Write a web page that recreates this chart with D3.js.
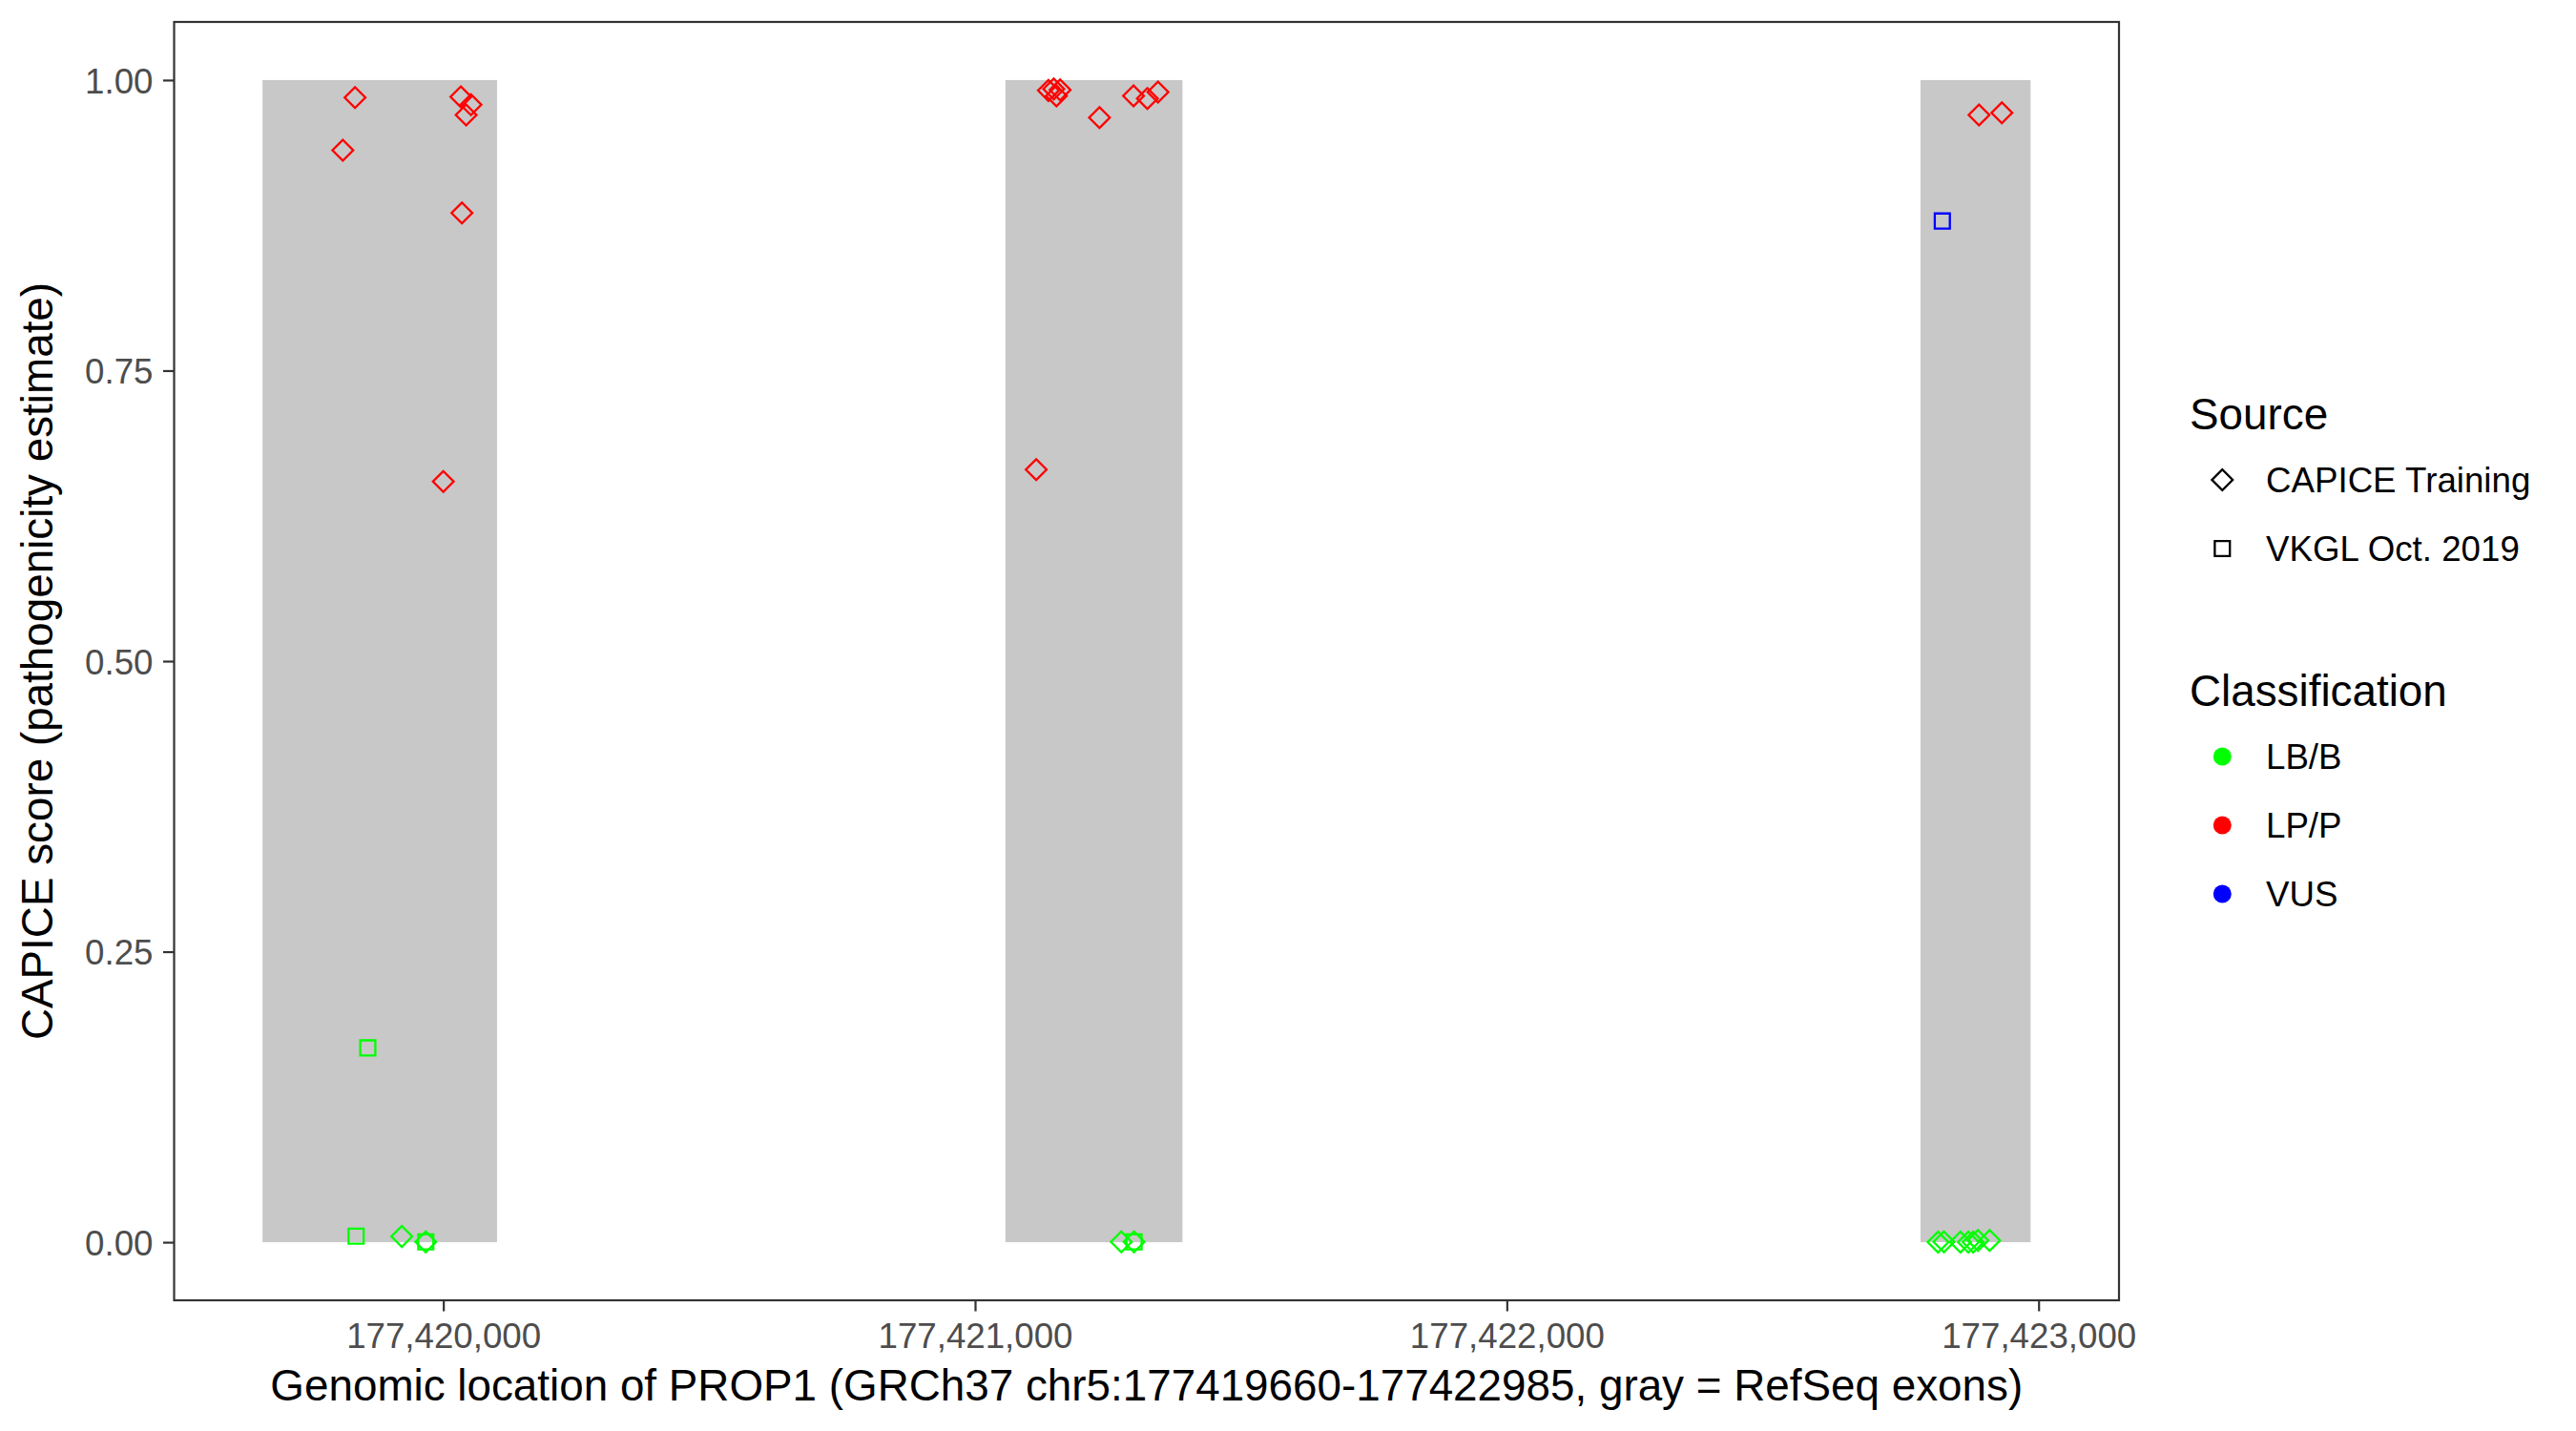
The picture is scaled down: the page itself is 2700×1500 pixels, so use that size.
<!DOCTYPE html>
<html><head><meta charset="utf-8">
<script src="https://cdn.jsdelivr.net/npm/d3@7"></script>
<style>body{margin:0;background:#fff}svg{display:block}</style>
</head><body>
<script>
// ---- data ----
const exonStart = [177419660, 177421057, 177422778];
const exonEnd   = [177420101, 177421390, 177422985];

const position = [
  177419834,177419811,177420033,177420052,177420043,177420035,177420000,
  177419858,177419836,177419922,177419967,177419967,
  177421138,177421148,177421160,177421153,177421234,177421298,177421324,177421344,177421115,
  177421275,177421299,177421299,
  177422888,177422931,177422819,
  177422811,177422822,177422853,177422868,177422877,177422886,177422908
];
const score = [
  0.985,0.9395,0.9855,0.9787,0.970,0.8856,0.6546,
  0.1672,0.0052,0.0049,0.0003,0.0003,
  0.991,0.9924,0.9915,0.9863,0.9677,0.9863,0.9842,0.9896,0.6648,
  0.0003,0.0003,0.0003,
  0.9699,0.9718,0.8787,
  0.0,0.0003,0.0,0.0,0.0,0.0016,0.0016
];
const source = [
  "C","C","C","C","C","C","C",
  "V","V","C","C","V",
  "C","C","C","C","C","C","C","C","C",
  "C","C","V",
  "C","C","V",
  "C","C","C","C","C","C","C"
];
const classification = [
  "LP/P","LP/P","LP/P","LP/P","LP/P","LP/P","LP/P",
  "LB/B","LB/B","LB/B","LB/B","LB/B",
  "LP/P","LP/P","LP/P","LP/P","LP/P","LP/P","LP/P","LP/P","LP/P",
  "LB/B","LB/B","LB/B",
  "LP/P","LP/P","VUS",
  "LB/B","LB/B","LB/B","LB/B","LB/B","LB/B","LB/B"
];
const xTicks = [177420000, 177421000, 177422000, 177423000];
const yTicks = [0, 0.25, 0.5, 0.75, 1.0];
const sourceLabels = ["CAPICE Training", "VKGL Oct. 2019"];
const sourceKeys = ["C", "V"];
const classLabels = ["LB/B", "LP/P", "VUS"];
const classColors = ["#00FF00", "#FF0000", "#0000FF"];
const geneStart = 177419660, geneEnd = 177422985;

// ---- layout ----
const W = 2700, H = 1500;
const panel = {left: 182.5, right: 2221, top: 23, bottom: 1363};
const tickFont = 36.7, titleFont = 45.8;
const fontFam = "'Liberation Sans', Arial, sans-serif";

const svg = d3.select("body").append("svg").attr("width", W).attr("height", H)
  .style("font-family", fontFam);
svg.append("rect").attr("width", W).attr("height", H).attr("fill", "#fff");

const span = geneEnd - geneStart;
const x = d3.scaleLinear().domain([geneStart - 0.05*span, geneEnd + 0.05*span])
  .range([panel.left, panel.right]);
const y = d3.scaleLinear().domain([-0.05, 1.05]).range([panel.bottom, panel.top]);

const color = d3.scaleOrdinal().domain(classLabels).range(classColors);

// exons
const exons = exonStart.map((s, i) => ({s, e: exonEnd[i]}));
svg.append("g").selectAll("rect").data(exons).join("rect")
  .attr("x", d => x(d.s)).attr("width", d => x(d.e) - x(d.s))
  .attr("y", y(1)).attr("height", y(0) - y(1))
  .attr("fill", "#C8C8C8");

// points
const pts = position.map((p, i) => ({p, s: score[i], src: source[i], cls: classification[i]}));
const diamond = d3.symbol().type(d3.symbolSquare).size(237)();
const square = d3.symbol().type(d3.symbolSquare).size(250)();
svg.append("g").selectAll("path").data(pts).join("path")
  .attr("d", d => d.src === "C" ? diamond : square)
  .attr("transform", d => `translate(${x(d.p)},${y(d.s)})` + (d.src === "C" ? " rotate(45)" : ""))
  .attr("fill", "none")
  .attr("stroke", d => color(d.cls))
  .attr("stroke-width", 2.3);

// panel border
svg.append("rect").attr("x", panel.left).attr("y", panel.top)
  .attr("width", panel.right - panel.left).attr("height", panel.bottom - panel.top)
  .attr("fill", "none").attr("stroke", "#333333").attr("stroke-width", 2.2);

// x axis
const xAxis = svg.append("g").attr("transform", `translate(0,${panel.bottom})`)
  .call(d3.axisBottom(x).tickValues(xTicks).tickSize(11.5).tickPadding(0)
    .tickFormat(d3.format(",")));
xAxis.select(".domain").remove();
xAxis.selectAll(".tick line").attr("stroke", "#333333").attr("stroke-width", 2.2);
xAxis.selectAll(".tick text").attr("fill", "#4D4D4D").attr("font-size", tickFont)
  .attr("font-family", fontFam).attr("dy", null).attr("y", 50);

// y axis
const yAxis = svg.append("g").attr("transform", `translate(${panel.left},0)`)
  .call(d3.axisLeft(y).tickValues(yTicks).tickSize(11.5).tickPadding(0)
    .tickFormat(d3.format(".2f")));
yAxis.select(".domain").remove();
yAxis.selectAll(".tick line").attr("stroke", "#333333").attr("stroke-width", 2.2);
yAxis.selectAll(".tick text").attr("fill", "#4D4D4D").attr("font-size", tickFont)
  .attr("font-family", fontFam).attr("dy", null).attr("x", -22).attr("y", 13.1);

// axis titles
svg.append("text").attr("x", (panel.left + panel.right)/2).attr("y", 1468)
  .attr("text-anchor", "middle").attr("font-size", titleFont).attr("fill", "#000")
  .text("Genomic location of PROP1 (GRCh37 chr5:177419660-177422985, gray = RefSeq exons)");
svg.append("text").attr("transform", `translate(54.5,${(panel.top + panel.bottom)/2}) rotate(-90)`)
  .attr("text-anchor", "middle").attr("font-size", titleFont).attr("fill", "#000")
  .text("CAPICE score (pathogenicity estimate)");

// legend
const lg = svg.append("g");
const keyX = 2329.3, labX = 2375, titleX = 2295;
lg.append("text").attr("x", titleX).attr("y", 449.5).attr("font-size", titleFont).text("Source");
const srcRows = [503, 575];
sourceKeys.forEach((k, i) => {
  lg.append("path").attr("d", k === "C" ? diamond : square)
    .attr("transform", `translate(${keyX},${srcRows[i]})` + (k === "C" ? " rotate(45)" : ""))
    .attr("fill", "none").attr("stroke", "#000").attr("stroke-width", 2.3);
  lg.append("text").attr("x", labX).attr("y", srcRows[i] + 13).attr("font-size", tickFont)
    .text(sourceLabels[i]);
});
lg.append("text").attr("x", titleX).attr("y", 739.5).attr("font-size", titleFont).text("Classification");
const clsRows = [793, 865, 937];
classLabels.forEach((c, i) => {
  lg.append("circle").attr("cx", keyX).attr("cy", clsRows[i]).attr("r", 9.5)
    .attr("fill", color(c));
  lg.append("text").attr("x", labX).attr("y", clsRows[i] + 13).attr("font-size", tickFont)
    .text(c);
});
</script>
</body></html>
